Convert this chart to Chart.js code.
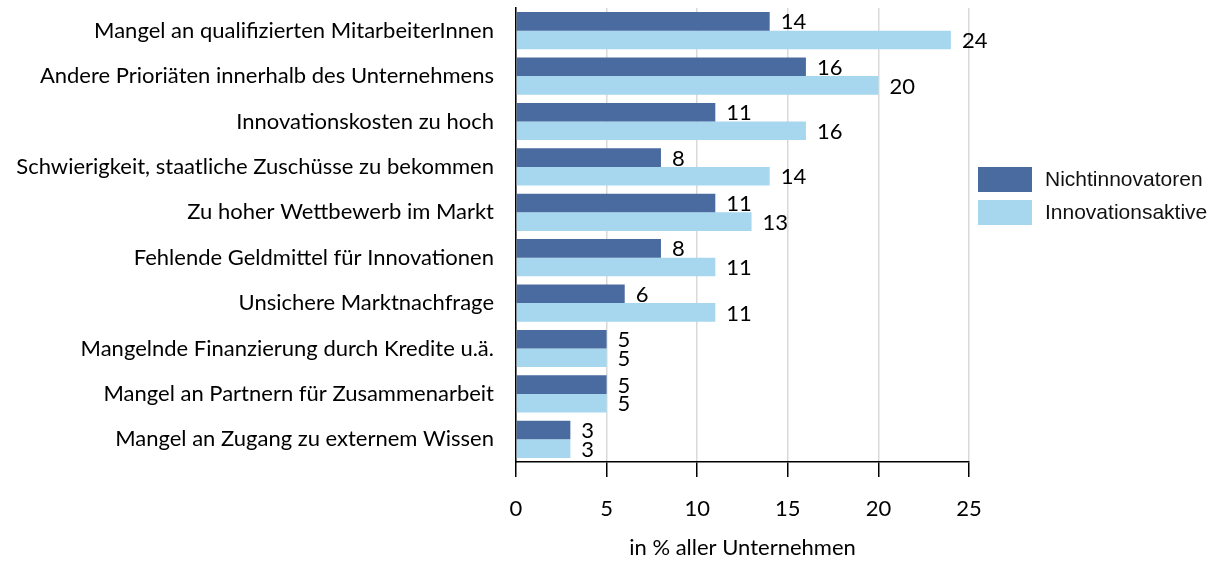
<!DOCTYPE html>
<html>
<head>
<meta charset="utf-8">
<script src="https://cdn.jsdelivr.net/npm/chart.js@4/dist/chart.umd.min.js"></script>
<style>
  html, body { margin: 0; padding: 0; background: #fff; }
  #wrap { width: 1219px; height: 561px; position: relative; }
</style>
</head>
<body>
<div id="wrap"><canvas id="chart"></canvas></div>
<script>
// categories, top to bottom
const categories = [
    'Mangel an qualifizierten MitarbeiterInnen',
    'Andere Prioriäten innerhalb des Unternehmens',
    'Innovationskosten zu hoch',
    'Schwierigkeit, staatliche Zuschüsse zu bekommen',
    'Zu hoher Wettbewerb im Markt',
    'Fehlende Geldmittel für Innovationen',
    'Unsichere Marktnachfrage',
    'Mangelnde Finanzierung durch Kredite u.ä.',
    'Mangel an Partnern für Zusammenarbeit',
    'Mangel an Zugang zu externem Wissen',
];
const seriesNames = ['Nichtinnovatoren', 'Innovationsaktive'];
const nichtinnovatoren = [14, 16, 11, 8, 11, 8, 6, 5, 5, 3];
const innovationsaktive = [24, 20, 16, 14, 13, 11, 11, 5, 5, 3];
const xTicks = [0, 5, 10, 15, 20, 25];
const axisTitle = 'in % aller Unternehmen';

const colors = ['#4a6b9f', '#a6d7ee'];
const labelFont = { family: 'Lato', size: 22 };

// value labels at the end of every bar
const valueLabels = {
    id: 'valueLabels',
    afterDatasetsDraw(chart) {
        const ctx = chart.ctx;
        ctx.save();
        ctx.font = `${labelFont.size}px ${labelFont.family}`;
        ctx.fillStyle = '#000';
        ctx.textBaseline = 'middle';
        ctx.textAlign = 'left';
        chart.data.datasets.forEach((ds, i) => {
            chart.getDatasetMeta(i).data.forEach((bar, j) => {
                ctx.fillText(String(ds.data[j]), bar.x + 11, bar.y + 1);
            });
        });
        ctx.restore();
    }
};

// legend to the right of the plot
const sideLegend = {
    id: 'sideLegend',
    afterDraw(chart) {
        const ctx = chart.ctx;
        const x = chart.chartArea.right + 9;
        ctx.save();
        ctx.font = '21px "Liberation Sans"';
        ctx.textBaseline = 'middle';
        chart.data.datasets.forEach((ds, i) => {
            const y = 167 + i * 33;
            ctx.fillStyle = ds.backgroundColor;
            ctx.fillRect(x, y, 54, 25);
            ctx.fillStyle = '#111';
            ctx.fillText(ds.label, x + 67, y + 13);
        });
        ctx.restore();
    }
};

new Chart(document.getElementById('chart'), {
    type: 'bar',
    data: {
        labels: categories,
        datasets: [
            { label: seriesNames[0], data: nichtinnovatoren, backgroundColor: colors[0] },
            { label: seriesNames[1], data: innovationsaktive, backgroundColor: colors[1] },
        ],
    },
    options: {
        indexAxis: 'y',
        responsive: true,
        maintainAspectRatio: false,
        animation: false,
        datasets: { bar: { barPercentage: 1, categoryPercentage: 0.82 } },
        layout: { padding: { top: 8, right: 250, left: 0, bottom: 0 } },
        plugins: { legend: { display: false }, tooltip: { enabled: false } },
        scales: {
            x: {
                min: 0,
                max: 25,
                afterBuildTicks(scale) { scale.ticks = xTicks.map(v => ({ value: v })); },
                afterFit(scale) { scale.height = 99; scale.paddingLeft = 0; scale.paddingRight = 0; },
                grid: { color: '#d9d9d9', lineWidth: 1.5, tickLength: 15, tickColor: '#000', tickWidth: 1.5 },
                border: { color: '#000', width: 1.5 },
                ticks: { color: '#000', padding: 19, font: labelFont },
                title: { display: true, text: axisTitle, color: '#000', font: labelFont, padding: { top: 0, bottom: 0 } },
            },
            y: {
                afterFit(scale) { scale.width = 516; scale.paddingTop = 0; scale.paddingBottom = 0; },
                grid: { display: false, drawOnChartArea: false, drawTicks: false },
                border: { color: '#000', width: 1.5 },
                ticks: { color: '#000', padding: 22, font: labelFont },
            },
        },
    },
    plugins: [valueLabels, sideLegend],
});
</script>
</body>
</html>
